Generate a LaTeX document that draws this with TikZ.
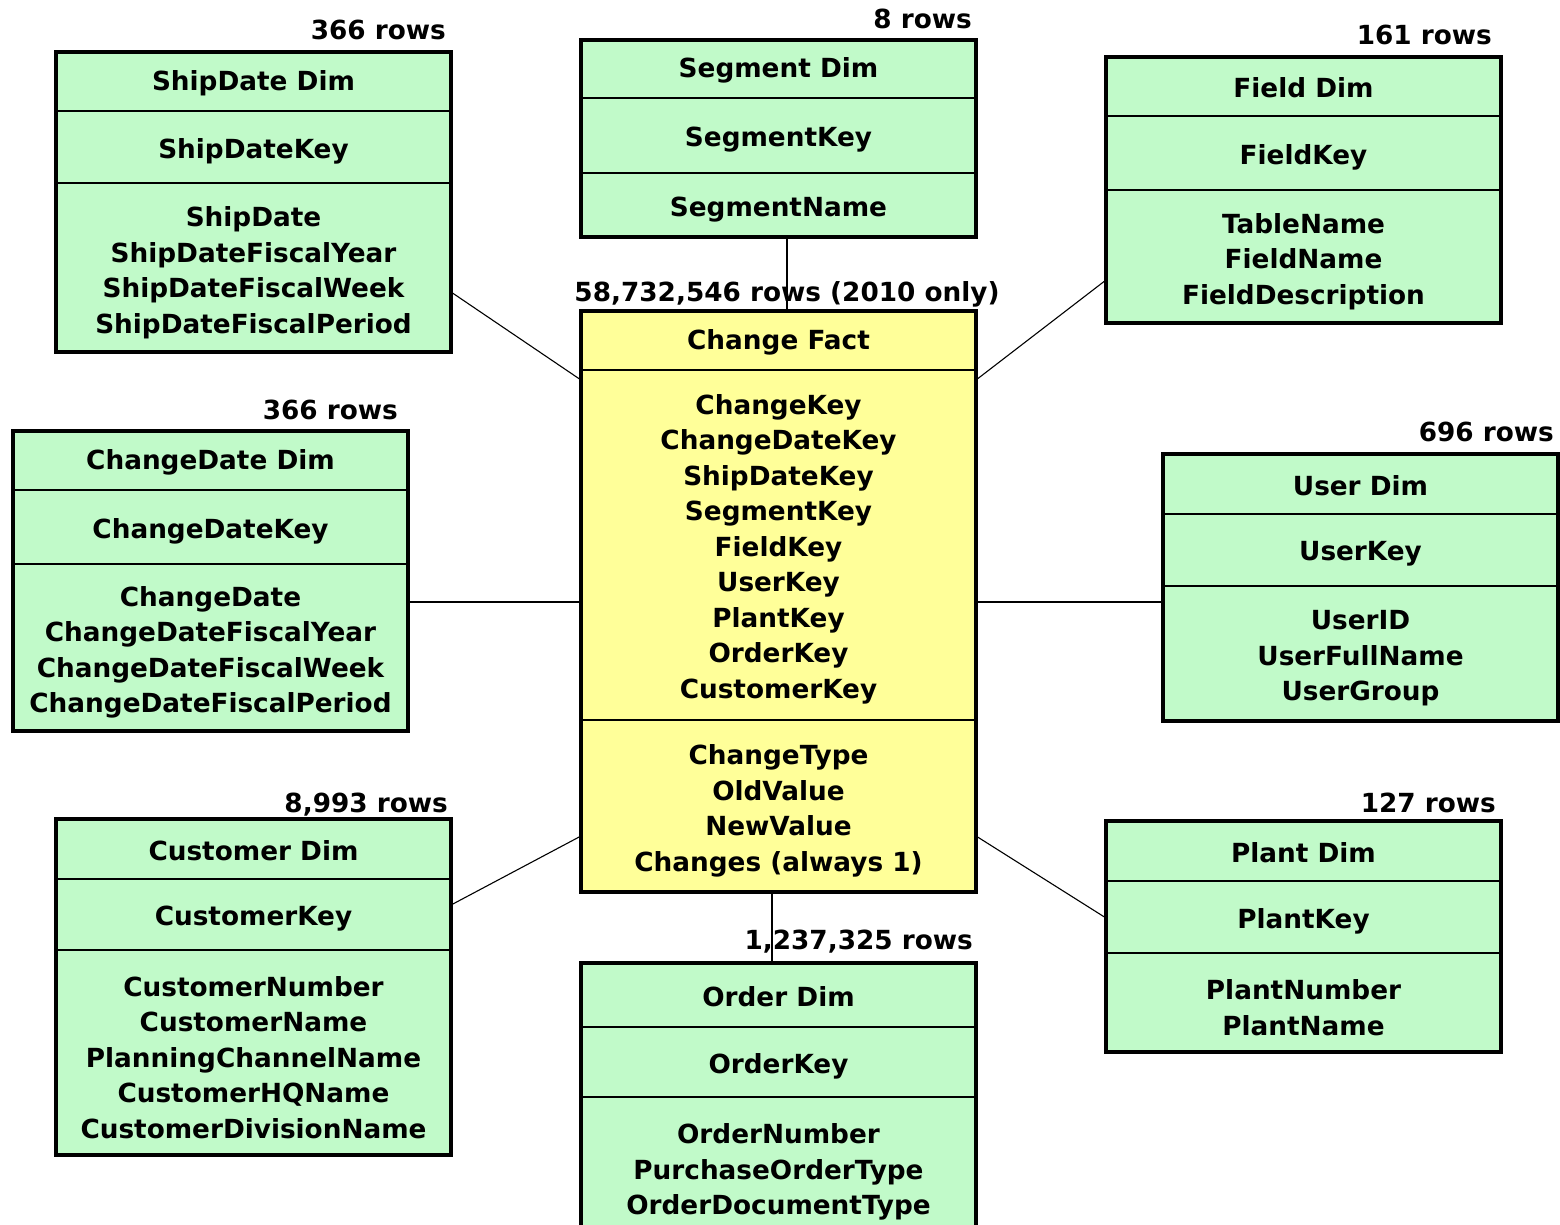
\documentclass[tikz,border=0pt]{standalone}
\usepackage{fontspec}
\setmainfont{DejaVu Sans}
\usetikzlibrary{fit,calc}
\definecolor{dimgreen}{RGB}{193,250,201}
\definecolor{factyellow}{RGB}{255,255,153}
\tikzset{
  cell/.style={draw=black, line width=1.6pt, minimum width=395, inner sep=0pt, outer sep=0pt},
  txt/.style={align=center, inner sep=0pt, font=\fontsize{26.3}{35.5}\selectfont\bfseries},
  frame/.style={draw=black, line width=4pt, inner sep=0pt, outer sep=0pt},
  lbl/.style={font=\fontsize{26.3}{35}\selectfont\bfseries, inner sep=0pt},
  conn/.style={draw=black, line width=1.1pt}
}
\newcommand{\erbox}[9]{%
  \node[cell, fill=#1, minimum height=#4, anchor=north west] (#2-h) at (#3) {};
  \node[cell, fill=#1, minimum height=#5, anchor=north west] (#2-k) at (#2-h.south west) {};
  \node[cell, fill=#1, minimum height=#6, anchor=north west] (#2-a) at (#2-k.south west) {};
  \node[frame, fit=(#2-h)(#2-a)] (#2) {};
  \node[txt] (#2-ht) at ([yshift=-1.5pt]#2-h.center) {#7};
  \node[txt] (#2-kt) at ([yshift=-4pt]#2-k.center) {#8};
  \node[txt] (#2-at) at ([yshift=-5pt]#2-a.center) {#9};
}
\begin{document}
\begin{tikzpicture}[x=1pt,y=-1pt]
\fill[white] (0,0) rectangle (1560,1225);
\clip (0,0) rectangle (1560,1225);

\erbox{factyellow}{fact}{581,311}{59}{350}{172}{Change Fact}
  {ChangeKey\\ChangeDateKey\\ShipDateKey\\SegmentKey\\FieldKey\\UserKey\\PlantKey\\OrderKey\\CustomerKey}
  {ChangeType\\OldValue\\NewValue\\Changes (always 1)}

\erbox{dimgreen}{ship}{56,52}{59}{72}{169}{ShipDate Dim}{ShipDateKey}
  {ShipDate\\ShipDateFiscalYear\\ShipDateFiscalWeek\\ShipDateFiscalPeriod}
\erbox{dimgreen}{seg}{581,40}{58}{75}{64}{Segment Dim}{SegmentKey}{SegmentName}
\erbox{dimgreen}{field}{1106,57}{59}{74}{133}{Field Dim}{FieldKey}
  {TableName\\FieldName\\FieldDescription}
\erbox{dimgreen}{cdate}{13,431}{59}{74}{167}{ChangeDate Dim}{ChangeDateKey}
  {ChangeDate\\ChangeDateFiscalYear\\ChangeDateFiscalWeek\\ChangeDateFiscalPeriod}
\erbox{dimgreen}{user}{1163,454}{60}{72}{135}{User Dim}{UserKey}
  {UserID\\UserFullName\\UserGroup}
\erbox{dimgreen}{cust}{56,819}{60}{71}{205}{Customer Dim}{CustomerKey}
  {CustomerNumber\\CustomerName\\PlanningChannelName\\CustomerHQName\\CustomerDivisionName}
\erbox{dimgreen}{order}{581,963}{64}{70}{140}{Order Dim}{OrderKey}
  {OrderNumber\\PurchaseOrderType\\OrderDocumentType}
\erbox{dimgreen}{plant}{1106,821}{60}{72}{99}{Plant Dim}{PlantKey}
  {PlantNumber\\PlantName}

% row-count labels
\node[lbl, anchor=base east] (ship-l) at (446,40) {366 rows};
\node[lbl, anchor=base east] (seg-l) at (972,29) {8 rows};
\node[lbl, anchor=base east] (field-l) at (1492,45) {161 rows};
\node[lbl, anchor=base east] (cdate-l) at (398,419) {366 rows};
\node[lbl, anchor=base] (fact-l) at (787,301) {58,732,546 rows (2010 only)};
\node[lbl, anchor=base east] (user-l) at (1554,441) {696 rows};
\node[lbl, anchor=base east] (cust-l) at (448,812) {8,993 rows};
\node[lbl, anchor=base east] (order-l) at (973,949) {1,237,325 rows};
\node[lbl, anchor=base east] (plant-l) at (1496,812) {127 rows};

% connectors
\draw[conn] ([yshift=-90pt]ship.east) -- ([yshift=221.5pt]fact.west);
\draw[conn] ([xshift=8.5pt]seg.south) -- ([xshift=8.5pt]fact.north);
\draw[conn] ([yshift=-90pt]field.west) -- ([yshift=221.5pt]fact.east);
\draw[conn] ([yshift=-21pt]cdate.east) -- ([yshift=-21pt]cdate.east -| fact.west);
\draw[conn] ([yshift=-14.5pt]user.west) -- ([yshift=-14.5pt]user.west -| fact.east);
\draw[conn] ([yshift=82pt]cust.east) -- ([yshift=-234.5pt]fact.west);
\draw[conn] ([yshift=18.5pt]plant.west) -- ([yshift=-234.5pt]fact.east);
\draw[conn] ([xshift=-6.5pt]order.north) -- ([xshift=-6.5pt]fact.south);
\end{tikzpicture}
\end{document}
